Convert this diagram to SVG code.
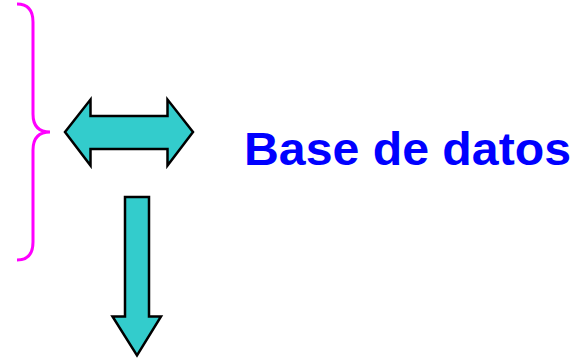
<svg xmlns="http://www.w3.org/2000/svg" width="573" height="361" viewBox="0 0 573 361">
<style>
.arrow{fill:#33CCCC;stroke:#000;stroke-width:2.5;stroke-linejoin:miter}
.brace{fill:none;stroke:#FF00FF;stroke-width:3}
.label{font-family:"Liberation Sans",Arial,sans-serif;font-weight:bold;font-size:46px;fill:#0000FF}
</style>
<rect width="573" height="361" fill="#fff"/>
<g id="brace">
<path class="brace" d="M17,4 Q33,4 33,22 L33,114 Q33,132 50,132 Q33,132 33,150 L33,242 Q33,260 17,260"/>
</g>
<g id="double-arrow">
<path class="arrow" d="M65,132 L90.5,99.5 L90.5,116 L167.5,116 L167.5,99.5 L193,132 L167.5,165.5 L167.5,149 L90.5,149 L90.5,165.5 Z"/>
</g>
<g id="down-arrow">
<path class="arrow" d="M125,197 L149,197 L149,316.5 L161,316.5 L137,355.5 L112.5,316.5 L125,316.5 Z"/>
</g>
<g id="label">
<text class="label" x="244" y="165" textLength="327" lengthAdjust="spacingAndGlyphs">Base de datos</text>
</g>
</svg>
